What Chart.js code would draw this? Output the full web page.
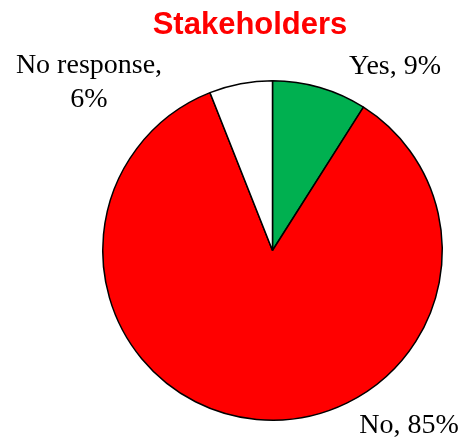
<!DOCTYPE html>
<html>
<head>
<meta charset="utf-8">
<script src="https://cdn.jsdelivr.net/npm/chart.js@4"></script>
<style>
  html, body { margin: 0; padding: 0; background: #fff; }
  #wrap { width: 463px; height: 438px; }
</style>
</head>
<body>
<div id="wrap"><canvas id="pieChart" width="463" height="438"></canvas></div>
<script>
// --- DONNÉES --- //
const categories = ['Yes', 'No', 'No response'];
const shares = [9, 85, 6];
const sliceColors = ['#00B050', '#FF0000', '#FFFFFF'];

// positions des étiquettes (texte uniquement)
const labelSpots = [
	{ x: 395, y: 74, lines: ['Yes, ' + shares[0] + '%'] },
	{ x: 409, y: 433, lines: ['No, ' + shares[1] + '%'] },
	{ x: 89, y: 73, lines: ['No response,', shares[2] + '%'] }
];

const textPlugin = {
	id: 'textPlugin',
	afterDraw(chart) {
		const ctx = chart.ctx;
		ctx.save();
		// Titre
		ctx.fillStyle = '#FF0000';
		ctx.font = 'bold 31px "Liberation Sans", Arial, sans-serif';
		ctx.textAlign = 'center';
		ctx.textBaseline = 'alphabetic';
		ctx.fillText('Stakeholders', 250, 34);
		// Étiquettes
		ctx.fillStyle = '#000';
		ctx.font = '28px "Liberation Serif", "Times New Roman", serif';
		labelSpots.forEach(s => {
			s.lines.forEach((t, i) => ctx.fillText(t, s.x, s.y + i * 34));
		});
		ctx.restore();
	}
};

new Chart(document.getElementById('pieChart'), {
	type: 'pie',
	data: {
		labels: categories,
		datasets: [{
			data: shares,
			backgroundColor: sliceColors,
			borderColor: '#000',
			borderWidth: 1.5
		}]
	},
	options: {
		responsive: false,
		animation: false,
		layout: { padding: { left: 102, right: 20, top: 80, bottom: 17 } },
		plugins: { legend: { display: false }, title: { display: false }, tooltip: { enabled: false } }
	},
	plugins: [textPlugin]
});
</script>
</body>
</html>
